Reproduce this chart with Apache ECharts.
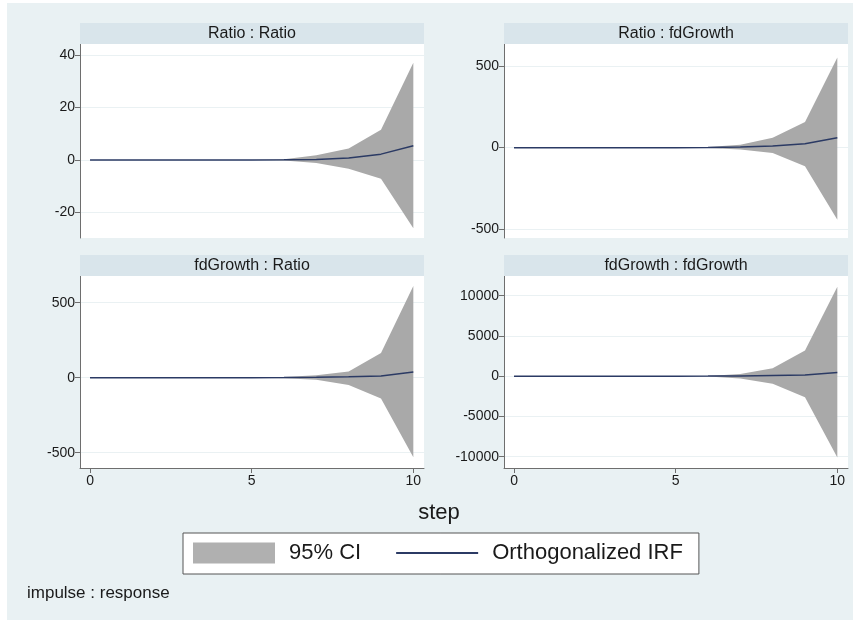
<!DOCTYPE html>
<html>
<head>
<meta charset="utf-8">
<script src="https://cdn.jsdelivr.net/npm/echarts@6/dist/echarts.min.js"></script>
<style>
html, body { margin: 0; padding: 0; background: #fff; }
#main { width: 856px; height: 623px; }
</style>
</head>
<body>
<div id="main"></div>
<script>
// steps on the x axis
var steps = [0, 1, 2, 3, 4, 5, 6, 7, 8, 9, 10];
var xTicks = [0, 5, 10];

// impulse : response titles
var panelTitles = ['Ratio : Ratio', 'Ratio : fdGrowth', 'fdGrowth : Ratio', 'fdGrowth : fdGrowth'];

// Ratio : Ratio
var irfRatioRatio = [0, 0, 0, 0, 0, 0, 0.02, 0.15, 0.7, 2.2, 5.4];
var loRatioRatio  = [0, 0, 0, 0, 0, 0, -0.2, -1.2, -3.4, -7.2, -26];
var hiRatioRatio  = [0, 0, 0, 0, 0, 0, 0.3, 1.8, 4.3, 11.5, 37];

// Ratio : fdGrowth
var irfRatioFd = [0, 0, 0, 0, 0, 0, 1, 4, 10, 24, 60];
var loRatioFd  = [0, 0, 0, 0, 0, 0, -3, -11, -33, -114, -440];
var hiRatioFd  = [0, 0, 0, 0, 0, 0, 4, 18, 60, 157, 550];

// fdGrowth : Ratio
var irfFdRatio = [0, 0, 0, 0, 0, 0, 1, 3, 6, 12, 38];
var loFdRatio  = [0, 0, 0, 0, 0, 0, -3, -14, -49, -138, -530];
var hiFdRatio  = [0, 0, 0, 0, 0, 0, 4, 16, 42, 164, 612];

// fdGrowth : fdGrowth
var irfFdFd = [0, 0, 0, 0, 0, 0, 10, 40, 100, 150, 460];
var loFdFd  = [0, 0, 0, 0, 0, 0, -40, -280, -950, -2600, -10100];
var hiFdFd  = [0, 0, 0, 0, 0, 0, 40, 280, 1000, 3200, 11100];

// y tick labels per panel
var yTicks = [
	[-20, 0, 20, 40],
	[-500, 0, 500],
	[-500, 0, 500],
	[-10000, -5000, 0, 5000, 10000]
];

(function(){
	var myChart = echarts.init(document.getElementById('main'));

	var irfs = [irfRatioRatio, irfRatioFd, irfFdRatio, irfFdFd];
	var los = [loRatioRatio, loRatioFd, loFdRatio, loFdFd];
	var his = [hiRatioRatio, hiRatioFd, hiFdRatio, hiFdFd];

	// layout of the four panels
	var boxes = [
		{left: 80, top: 44, width: 344, height: 194},
		{left: 504, top: 44, width: 344, height: 194},
		{left: 80, top: 276, width: 344, height: 192},
		{left: 504, top: 276, width: 344, height: 192}
	];
	var yRange = [[-29.7, 44.1], [-552, 633], [-602, 678], [-11404, 12447]];

	var font = 'Liberation Sans, Arial, sans-serif';
	var axisColor = '#6e6e6e';
	var textColor = '#1a1a1a';

	var grids = [], xAxes = [], yAxes = [], series = [];
	var graphics = [{
		type: 'rect', z: -100,
		shape: {x: 7, y: 3, width: 846, height: 617},
		style: {fill: '#e9f1f3'}
	}];

	boxes.forEach(function(b, i){
		var bottomRow = i >= 2;
		grids.push({
			left: b.left, top: b.top, width: b.width, height: b.height,
			show: true, backgroundColor: '#fff', borderWidth: 0
		});
		xAxes.push({
			gridIndex: i, type: 'value', min: -0.31, max: 10.33,
			axisLine: {show: bottomRow, onZero: false, lineStyle: {color: axisColor, width: 1}},
			axisTick: {show: bottomRow, customValues: xTicks, length: 5, lineStyle: {color: axisColor}},
			axisLabel: {show: bottomRow, customValues: xTicks, fontSize: 14, margin: 6,
				color: textColor, fontFamily: font},
			splitLine: {show: false}
		});
		yAxes.push({
			gridIndex: i, type: 'value', min: yRange[i][0], max: yRange[i][1],
			axisLine: {show: true, onZero: false, lineStyle: {color: axisColor, width: 1}},
			axisTick: {show: true, customValues: yTicks[i], length: 5, lineStyle: {color: axisColor}},
			axisLabel: {customValues: yTicks[i], fontSize: 14, margin: 5,
				color: textColor, fontFamily: font,
				formatter: function(v){ return String(v); }},
			splitLine: {show: true, lineStyle: {color: '#eaf1f3', width: 1}}
		});

		// confidence band as one polygon through the axis scales
		series.push({
			name: '95% CI', type: 'custom', xAxisIndex: i, yAxisIndex: i,
			data: steps.map(function(s, k){ return [s, los[i][k], his[i][k]]; }),
			itemStyle: {color: '#a9a9a9'}, silent: true, z: 1,
			renderItem: function(params, api){
				if (params.dataIndex !== 0) return null;
				var pts = [];
				steps.forEach(function(s, k){ pts.push(api.coord([s, his[i][k]])); });
				for (var k = steps.length - 1; k >= 0; k--) pts.push(api.coord([steps[k], los[i][k]]));
				return {type: 'polygon', shape: {points: pts}, style: {fill: '#a9a9a9'}};
			}
		});
		series.push({
			name: 'Orthogonalized IRF', type: 'line', xAxisIndex: i, yAxisIndex: i,
			data: steps.map(function(s, k){ return [s, irfs[i][k]]; }),
			symbol: 'none', silent: true, color: '#2b3a64',
			lineStyle: {color: '#2b3a64', width: 1.5}, z: 3
		});

		// header strip
		graphics.push({
			type: 'rect', z: 5,
			shape: {x: b.left, y: b.top - 21, width: b.width, height: 21},
			style: {fill: '#d9e5eb'}
		});
		graphics.push({
			type: 'text', z: 6,
			x: b.left + b.width / 2, y: b.top - 10.5,
			style: {text: panelTitles[i], fontSize: 16, fontFamily: font, fill: textColor,
				align: 'center', verticalAlign: 'middle'}
		});
	});

	graphics.push({
		type: 'text', x: 439, y: 513,
		style: {text: 'step', fontSize: 22, fontFamily: font, fill: textColor,
			align: 'center', verticalAlign: 'middle'}
	});
	graphics.push({
		type: 'text', x: 27, y: 593,
		style: {text: 'impulse : response', fontSize: 17, fontFamily: font, fill: textColor,
			align: 'left', verticalAlign: 'middle'}
	});

	var option = {
		animation: false,
		backgroundColor: '#fff',
		grid: grids,
		xAxis: xAxes,
		yAxis: yAxes,
		legend: {
			data: [
				{name: '95% CI', icon: 'rect', itemStyle: {color: '#b0b0b0', borderWidth: 0}},
				{name: 'Orthogonalized IRF', icon: 'path://M0,0H80V2H0Z', itemStyle: {color: '#2b3a64'}}
			],
			selectedMode: false,
			left: 183, top: 533,
			padding: [9, 16, 10, 10],
			itemGap: 35, itemWidth: 82, itemHeight: 21,
			backgroundColor: '#fff', borderColor: '#555', borderWidth: 1,
			textStyle: {fontSize: 22, fontFamily: font, color: textColor, padding: [0, 0, 0, 9]}
		},
		graphic: graphics,
		series: series
	};

	myChart.setOption(option);
})();
</script>
</body>
</html>
